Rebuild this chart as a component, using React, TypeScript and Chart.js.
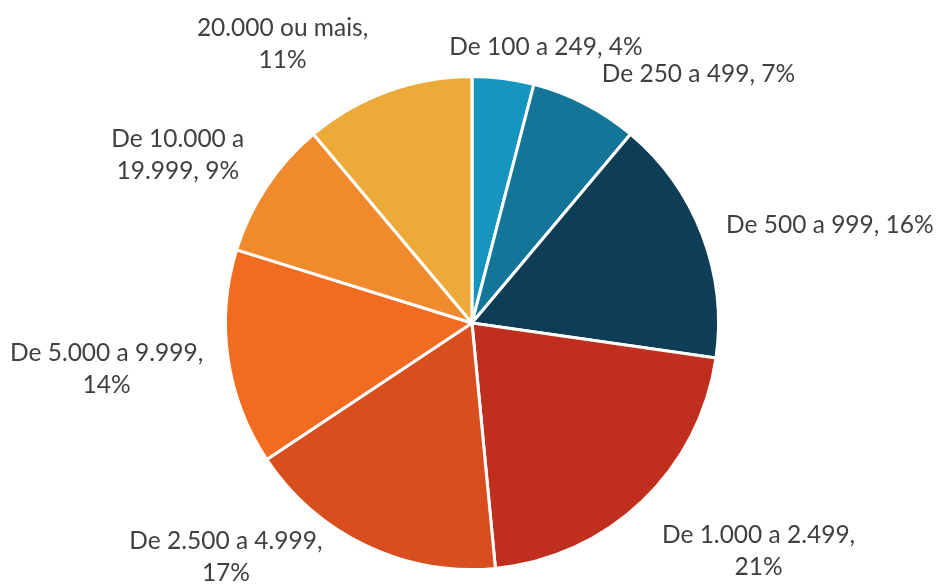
import React, { useEffect, useRef } from "react";
import { Chart, registerables } from "chart.js";

Chart.register(...registerables);

const categories = [
  "De 100 a 249",
  "De 250 a 499",
  "De 500 a 999",
  "De 1.000 a 2.499",
  "De 2.500 a 4.999",
  "De 5.000 a 9.999",
  "De 10.000 a 19.999",
  "20.000 ou mais",
];
const values = [4, 7, 16, 21, 17, 14, 9, 11];
const colors = [
  "#1696BE",
  "#137699",
  "#0E3D56",
  "#C02E1D",
  "#D94E1F",
  "#F16C20",
  "#EF8B2C",
  "#ECAA38",
];
// layout: max wrap width per label and nudge from default outside placement
const wrapWidths = [400, 400, 400, 205, 205, 205, 205, 205];
const labelNudges: [number, number][] = [
  [28, 4],
  [60, 2],
  [12, 3],
  [36, 12],
  [-90, -35],
  [-6, 4],
  [-17, -3],
  [-69, 2],
];

const FONT = "24.5px Lato";
const LINE_H = 32;

function wrap(ctx: CanvasRenderingContext2D, text: string, maxW: number): string[] {
  const words = text.split(" ");
  const lines: string[] = [];
  let cur = "";
  for (const w of words) {
    const t = cur ? cur + " " + w : w;
    if (cur && ctx.measureText(t).width > maxW) {
      lines.push(cur);
      cur = w;
    } else cur = t;
  }
  if (cur) lines.push(cur);
  return lines;
}

const labelPlugin = {
  id: "outLabels",
  afterDatasetsDraw(chart: any) {
    const ctx: CanvasRenderingContext2D = chart.ctx;
    const meta = chart.getDatasetMeta(0);
    ctx.save();
    ctx.font = FONT;
    ctx.fillStyle = "#404040";
    ctx.textAlign = "center";
    ctx.textBaseline = "middle";
    meta.data.forEach((arc: any, i: number) => {
      const { x, y, startAngle, endAngle, outerRadius } = arc.getProps(
        ["x", "y", "startAngle", "endAngle", "outerRadius"],
        true
      );
      const mid = (startAngle + endAngle) / 2;
      const dx = Math.cos(mid);
      const dy = Math.sin(mid);
      const R = outerRadius + 20;
      const text = `${categories[i]}, ${values[i]}%`;
      const lines = wrap(ctx, text, wrapWidths[i]);
      const w = Math.max(...lines.map((l) => ctx.measureText(l).width));
      const h = lines.length * LINE_H;
      const cx = x + dx * R + (dx * w) / 2 + labelNudges[i][0];
      const cy = y + dy * R + (dy * h) / 2 + labelNudges[i][1];
      lines.forEach((l, k) => {
        ctx.fillText(l, cx, cy - h / 2 + LINE_H / 2 + k * LINE_H);
      });
    });
    ctx.restore();
  },
};

export default function App() {
  const ref = useRef<HTMLCanvasElement>(null);
  useEffect(() => {
    const chart = new Chart(ref.current!, {
      type: "pie",
      data: {
        labels: categories,
        datasets: [
          {
            data: values,
            backgroundColor: colors,
            borderColor: "#ffffff",
            borderWidth: 3,
          },
        ],
      },
      options: {
        animation: false,
        responsive: false,
        layout: { padding: { left: 224, right: 217, top: 75, bottom: 13 } },
        plugins: {
          legend: { display: false },
          tooltip: { enabled: false },
        },
      },
      plugins: [labelPlugin],
    });
    return () => chart.destroy();
  }, []);
  return (
    <div style={{ position: "absolute", left: 0, top: 0, width: 937, height: 584, background: "#fff" }}>
      <canvas ref={ref} width={937} height={584} />
    </div>
  );
}
